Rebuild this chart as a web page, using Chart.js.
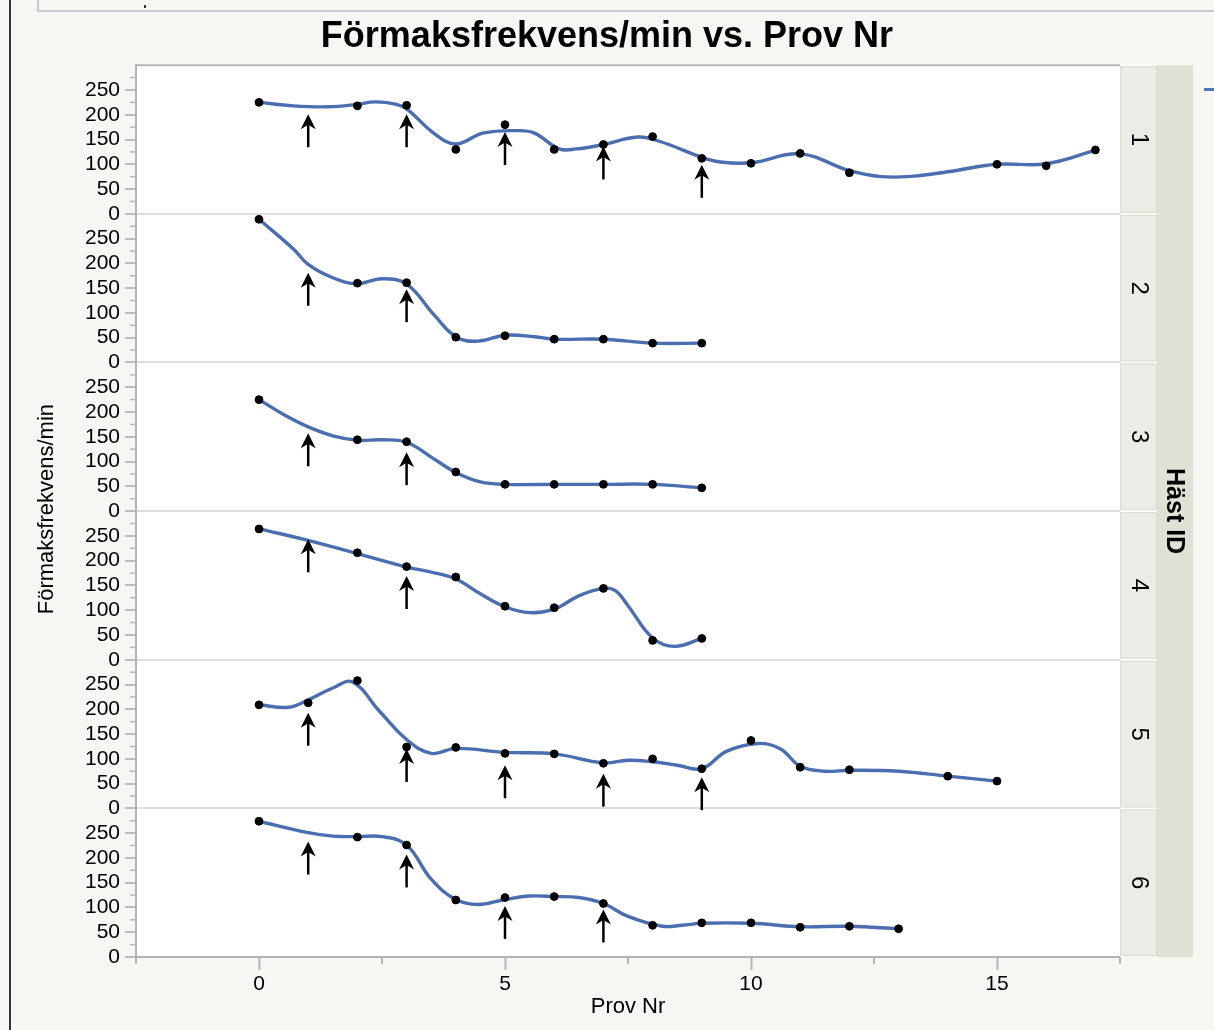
<!DOCTYPE html>
<html>
<head>
<meta charset="utf-8">
<script src="https://cdn.jsdelivr.net/npm/chart.js@4.4.1/dist/chart.umd.min.js"></script>
<style>
  html, body { margin: 0; padding: 0; background: #f7f6f2; }
  body { width: 1214px; height: 1030px; position: relative; overflow: hidden; }
  #chart { position: absolute; left: 0; top: 0; }
  .edge { position: absolute; left: 9px; top: 0; width: 2px; height: 1030px; background: #30343f; }
  .frame { position: absolute; left: 37px; top: 0; width: 1177px; height: 10px; border-left: 2px solid #c9c9c9; border-bottom: 2px solid #c9c9c9; }
  .speck { position: absolute; left: 144px; top: 5px; width: 2px; height: 3px; background: #333; }
  .legend-dash { position: absolute; left: 1204px; top: 88px; width: 10px; height: 3px; background: #5076ba; }
</style>
</head>
<body>
<div class="edge"></div>
<div class="frame"></div>
<div class="speck"></div>
<div class="legend-dash"></div>
<canvas id="chart" width="1214" height="1030"></canvas>
<script>
// ----- data -----
const provNr1 = [0, 2, 3, 4, 5, 6, 7, 8, 9, 10, 11, 12, 15, 16, 17];
const frekvens1 = [225, 218, 219, 130, 180, 130, 140, 156, 112, 102, 122, 83, 100, 97, 129];
const kurvaNr1 = [0, 0.7, 1.4, 2, 2.35, 2.75, 3, 3.55, 4, 4.55, 5.25, 5.6, 6.1, 6.45, 7, 7.7, 8.15, 9, 9.35, 10, 11, 12, 12.65, 13.3, 14, 15, 16, 17];
const kurva1 = [225, 218, 216, 221, 226, 222, 212, 163, 141, 163, 168, 163, 131, 131, 140, 155, 146, 114, 105, 103, 121, 87, 75, 76, 85, 100, 101, 128];
const pilNr1 = [1, 3, 5, 7, 9];
const pilTopp1 = [201, 201, 165, 136, 99];

const provNr2 = [0, 2, 3, 4, 5, 6, 7, 8, 9];
const frekvens2 = [289, 160, 161, 51, 54, 47, 47, 39, 39];
const kurvaNr2 = [0, 0.7, 1, 1.5, 2, 2.5, 3, 3.55, 4, 4.45, 5, 5.6, 6, 7, 8, 9];
const kurva2 = [289, 229, 198, 171, 159, 169, 158, 97, 52, 43, 55, 52, 47, 47, 39, 39];
const pilNr2 = [1, 3];
const pilTopp2 = [181, 148];

const provNr3 = [0, 2, 3, 4, 5, 6, 7, 8, 9];
const frekvens3 = [225, 144, 140, 79, 54, 54, 54, 54, 47];
const kurvaNr3 = [0, 0.5, 1, 1.5, 2, 2.5, 3, 3.5, 4, 4.5, 5, 6, 7, 8, 9];
const kurva3 = [225, 195, 170, 152, 143, 144, 139, 109, 78, 59, 54, 54, 54, 54, 47];
const pilNr3 = [1, 3];
const pilTopp3 = [157, 119];

const provNr4 = [0, 2, 3, 4, 5, 6, 7, 8, 9];
const frekvens4 = [264, 216, 188, 167, 108, 105, 144, 39, 43];
const kurvaNr4 = [0, 1, 2, 3, 3.5, 4, 4.5, 5, 5.5, 6, 6.5, 7, 7.25, 7.5, 8, 8.45, 9];
const kurva4 = [264, 241, 214, 187, 177, 163, 133, 107, 95, 102, 129, 144, 139, 109, 44, 27, 43];
const pilNr4 = [1, 3];
const pilTopp4 = [243, 169];

const provNr5 = [0, 1, 2, 3, 4, 5, 6, 7, 8, 9, 10, 11, 12, 14, 15];
const frekvens5 = [209, 213, 258, 124, 123, 111, 110, 91, 100, 80, 137, 83, 78, 65, 55];
const kurvaNr5 = [0, 0.6, 1, 1.5, 1.9, 2.45, 3, 3.5, 4, 5, 6, 7, 7.5, 8, 8.5, 9, 9.5, 10.15, 10.6, 11, 11.5, 12, 13, 14, 15];
const kurva5 = [209, 204, 219, 243, 255, 196, 139, 111, 121, 113, 110, 92, 97, 94, 87, 80, 115, 131, 120, 85, 75, 77, 75, 65, 55];
const pilNr5 = [1, 3, 5, 7, 9];
const pilTopp5 = [193, 120, 87, 70, 63];

const provNr6 = [0, 2, 3, 4, 5, 6, 7, 8, 9, 10, 11, 12, 13];
const frekvens6 = [274, 242, 226, 115, 120, 122, 108, 64, 69, 69, 60, 62, 57];
const kurvaNr6 = [0, 1, 1.5, 2, 2.5, 3, 3.5, 4, 4.45, 5, 5.5, 6, 6.5, 7, 7.5, 8.2, 8.6, 9, 10, 11, 12, 13];
const kurva6 = [274, 251, 244, 243, 243, 226, 157, 116, 106, 116, 123, 122, 120, 108, 82, 62, 64, 68, 68, 61, 62, 57];
const pilNr6 = [1, 3, 5, 7];
const pilTopp6 = [233, 207, 103, 96];

const hastIds = ["1", "2", "3", "4", "5", "6"];
const xLabels = [0, 5, 10, 15];
const yLabels = [0, 50, 100, 150, 200, 250];

// ----- styles -----
const blue = "#4a6eb0";
const axisGray = "#b4b4b4";
const arrowLength = 33;
const stripWidth = 37;
const idWidth = 36;

const horses = [
  { provNr: provNr1, frekvens: frekvens1, kurvaNr: kurvaNr1, kurva: kurva1, pilNr: pilNr1, pilTopp: pilTopp1 },
  { provNr: provNr2, frekvens: frekvens2, kurvaNr: kurvaNr2, kurva: kurva2, pilNr: pilNr2, pilTopp: pilTopp2 },
  { provNr: provNr3, frekvens: frekvens3, kurvaNr: kurvaNr3, kurva: kurva3, pilNr: pilNr3, pilTopp: pilTopp3 },
  { provNr: provNr4, frekvens: frekvens4, kurvaNr: kurvaNr4, kurva: kurva4, pilNr: pilNr4, pilTopp: pilTopp4 },
  { provNr: provNr5, frekvens: frekvens5, kurvaNr: kurvaNr5, kurva: kurva5, pilNr: pilNr5, pilTopp: pilTopp5 },
  { provNr: provNr6, frekvens: frekvens6, kurvaNr: kurvaNr6, kurva: kurva6, pilNr: pilNr6, pilTopp: pilTopp6 }
];

Chart.defaults.font.family = "'Liberation Sans', Arial, Helvetica, sans-serif";
Chart.defaults.color = "#000";

const datasets = [];
horses.forEach((h, i) => {
  const axis = "y" + (i + 1);
  datasets.push({
    type: "scatter",
    label: "Häst " + hastIds[i],
    data: h.provNr.map((x, j) => ({ x: x, y: h.frekvens[j] })),
    yAxisID: axis,
    pointRadius: 3.9,
    pointBackgroundColor: "#000",
    pointBorderColor: "#000",
    pointBorderWidth: 1,
    order: 0
  });
  // smoother drawn by JMP
  datasets.push({
    type: "line",
    label: "Kurva " + hastIds[i],
    data: h.kurvaNr.map((x, j) => ({ x: x, y: h.kurva[j] })),
    yAxisID: axis,
    borderColor: blue,
    borderWidth: 3.4,
    borderCapStyle: "round",
    borderJoinStyle: "round",
    pointRadius: 0,
    tension: 0.4,
    fill: false,
    order: 1
  });
});

const isXLabel = v => xLabels.includes(v);
const isYLabel = v => yLabels.includes(v);

const scales = {
  x: {
    type: "linear",
    position: "bottom",
    min: -2.5,
    max: 17.5,
    border: { color: axisGray, width: 2 },
    grid: {
      drawOnChartArea: false,
      tickLength: 13,
      tickWidth: 2,
      tickColor: c => isXLabel(c.tick.value) ? axisGray : "rgba(0,0,0,0)"
    },
    ticks: {
      stepSize: 2.5,
      autoSkip: false,
      maxRotation: 0,
      padding: 2,
      font: { size: 21 },
      callback: v => isXLabel(v) ? String(v) : ""
    },
    title: { display: true, text: "Prov Nr", font: { size: 22 }, padding: { top: 0, bottom: 10 } },
    afterFit: s => { s.height = 73; }
  },
  strip: {
    type: "linear",
    position: "right",
    display: true,
    grid: { display: false },
    border: { display: false },
    ticks: { display: false },
    afterFit: s => { s.width = stripWidth + idWidth + 21; }
  }
};

horses.forEach((h, i) => {
  scales["y" + (i + 1)] = {
    type: "linear",
    position: "left",
    stack: "hast",
    stackWeight: 1,
    weight: 6 - i,
    min: 0,
    max: 300,
    border: { color: axisGray, width: 2 },
    grid: {
      color: c => c.tick.value === 0 ? "#dedede" : "rgba(0,0,0,0)",
      lineWidth: 2,
      tickLength: 11,
      tickWidth: 1.5,
      tickColor: c => isYLabel(c.tick.value) ? "#a8a8a8" : "rgba(0,0,0,0)"
    },
    ticks: {
      stepSize: 25,
      autoSkip: false,
      padding: 5,
      font: { size: 21 },
      callback: v => isYLabel(v) ? String(v) : ""
    },
    afterFit: s => { s.width = 136; }
  };
});

function drawArrow(ctx, x, yTip) {
  ctx.beginPath();
  ctx.moveTo(x, yTip + 10);
  ctx.lineTo(x, yTip + arrowLength);
  ctx.stroke();
  ctx.beginPath();
  ctx.moveTo(x, yTip);
  ctx.lineTo(x + 7.5, yTip + 15);
  ctx.lineTo(x, yTip + 10.5);
  ctx.lineTo(x - 7.5, yTip + 15);
  ctx.closePath();
  ctx.fill();
}

const panelDecor = {
  id: "panelDecor",
  beforeDraw(chart) {
    const { ctx, chartArea: ca } = chart;
    ctx.save();
    ctx.fillStyle = "#ffffff";
    ctx.fillRect(ca.left, ca.top, ca.right - ca.left, ca.bottom - ca.top);
    ctx.restore();
  },
  afterDatasetsDraw(chart) {
    const ctx = chart.ctx;
    const sx = chart.scales.x;
    ctx.save();
    ctx.strokeStyle = "#000";
    ctx.fillStyle = "#000";
    ctx.lineWidth = 2.5;
    horses.forEach((h, i) => {
      const sy = chart.scales["y" + (i + 1)];
      h.pilNr.forEach((nr, j) => {
        drawArrow(ctx, sx.getPixelForValue(nr), sy.getPixelForValue(h.pilTopp[j]));
      });
    });
    ctx.restore();
  },
  afterDraw(chart) {
    const { ctx, chartArea: ca } = chart;
    ctx.save();

    // top frame of plot
    ctx.strokeStyle = axisGray;
    ctx.lineWidth = 2;
    ctx.beginPath();
    ctx.moveTo(ca.left, ca.top);
    ctx.lineTo(ca.right, ca.top);
    ctx.stroke();

    // minor ticks
    ctx.strokeStyle = "#b8b8b8";
    ctx.lineWidth = 1.5;
    horses.forEach((h, i) => {
      const sy = chart.scales["y" + (i + 1)];
      sy.ticks.forEach(t => {
        if (t.value % 50 === 0) return;
        const y = sy.getPixelForValue(t.value);
        ctx.beginPath();
        ctx.moveTo(sy.right - 6, y);
        ctx.lineTo(sy.right, y);
        ctx.stroke();
      });
    });
    const sx = chart.scales.x;
    ctx.lineWidth = 2;
    ctx.strokeStyle = axisGray;
    sx.ticks.forEach(t => {
      if (isXLabel(t.value)) return;
      const x = sx.getPixelForValue(t.value);
      ctx.beginPath();
      ctx.moveTo(x, sx.top);
      ctx.lineTo(x, sx.top + 7);
      ctx.stroke();
    });

    // strips on the right
    ctx.fillStyle = "#ffffff";
    ctx.fillRect(ca.right, ca.top, stripWidth, ca.bottom - ca.top);
    ctx.fillStyle = "#e1e0d5";
    ctx.fillRect(ca.right + stripWidth, ca.top, idWidth, ca.bottom - ca.top);
    horses.forEach((h, i) => {
      const sy = chart.scales["y" + (i + 1)];
      ctx.fillStyle = "#ecebe6";
      ctx.fillRect(ca.right, sy.top + 1, stripWidth, sy.bottom - sy.top - 2);
      ctx.strokeStyle = "#dcdbd2";
      ctx.lineWidth = 1;
      ctx.strokeRect(ca.right + 0.5, sy.top + 1.5, stripWidth - 1, sy.bottom - sy.top - 3);
      ctx.save();
      ctx.translate(ca.right + stripWidth / 2, (sy.top + sy.bottom) / 2);
      ctx.rotate(Math.PI / 2);
      ctx.font = "24px 'Liberation Sans', Arial, sans-serif";
      ctx.textAlign = "center";
      ctx.textBaseline = "middle";
      ctx.fillStyle = "#000";
      ctx.fillText(hastIds[i], 0, 0);
      ctx.restore();
    });

    ctx.save();
    ctx.translate(ca.right + stripWidth + idWidth / 2 - 1, (ca.top + ca.bottom) / 2);
    ctx.rotate(Math.PI / 2);
    ctx.font = "bold 25px 'Liberation Sans', Arial, sans-serif";
    ctx.textAlign = "center";
    ctx.textBaseline = "middle";
    ctx.fillStyle = "#000";
    ctx.fillText("Häst ID", 0, 0);
    ctx.restore();

    // y axis title, shared by all panels
    ctx.translate(47, (ca.top + ca.bottom) / 2 - 2);
    ctx.rotate(-Math.PI / 2);
    ctx.font = "22px 'Liberation Sans', Arial, sans-serif";
    ctx.textAlign = "center";
    ctx.textBaseline = "middle";
    ctx.fillStyle = "#000";
    ctx.fillText("Förmaksfrekvens/min", 0, 0);
    ctx.restore();
  }
};

const chart = new Chart(document.getElementById("chart"), {
  type: "scatter",
  data: { datasets: datasets },
  options: {
    responsive: false,
    animation: false,
    devicePixelRatio: 1,
    layout: { padding: 0 },
    plugins: {
      legend: { display: false },
      tooltip: { enabled: false },
      title: {
        display: true,
        text: "Förmaksfrekvens/min vs. Prov Nr",
        font: { size: 36, weight: "bold" },
        color: "#000",
        padding: { top: 15, bottom: 7 }
      }
    },
    scales: scales
  },
  plugins: [panelDecor]
});
</script>
</body>
</html>
